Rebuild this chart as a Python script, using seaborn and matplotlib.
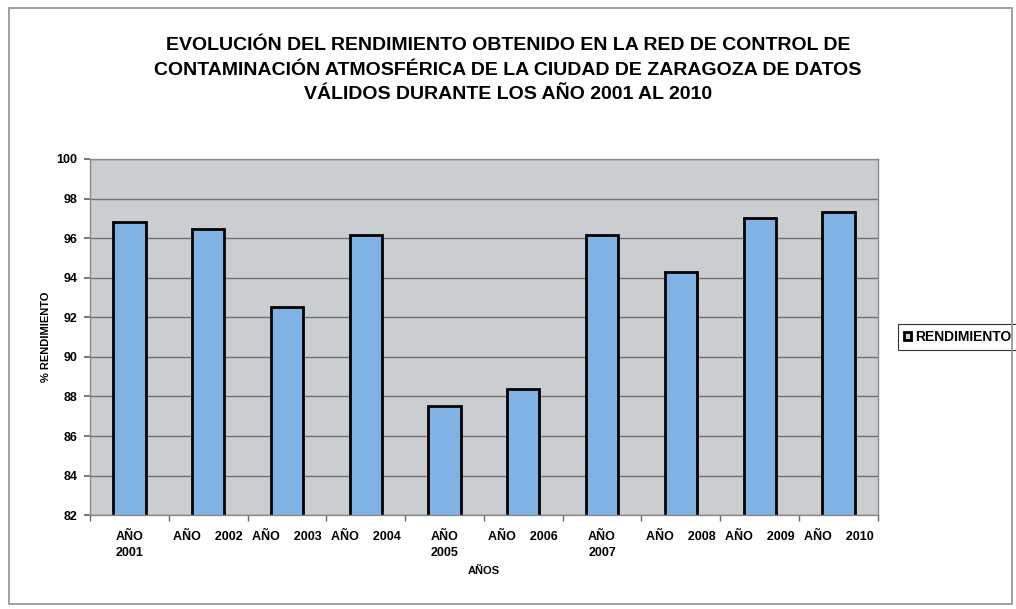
import matplotlib
matplotlib.use("Agg")
import matplotlib.pyplot as plt
import seaborn as sns
import pandas as pd
import numpy as np
from matplotlib.patches import Rectangle

years = ["2001", "2002", "2003", "2004", "2005", "2006", "2007", "2008", "2009", "2010"]
rendimiento = [96.8, 96.45, 92.5, 96.15, 87.5, 88.4, 96.15, 94.3, 97.0, 97.3]
tick_labels = ["AÑO\n2001", "AÑO    2002", "AÑO    2003", "AÑO    2004", "AÑO\n2005",
               "AÑO    2006", "AÑO\n2007", "AÑO    2008", "AÑO    2009", "AÑO    2010"]
title = ("EVOLUCIÓN DEL RENDIMIENTO OBTENIDO EN LA RED DE CONTROL DE\n"
         "CONTAMINACIÓN ATMOSFÉRICA DE LA CIUDAD DE ZARAGOZA DE DATOS\n"
         "VÁLIDOS DURANTE LOS AÑO 2001 AL 2010")

sns.set_theme(style="white")
plt.rcParams["font.family"] = ["Liberation Sans", "DejaVu Sans"]
plt.rcParams["text.color"] = "black"
plt.rcParams["axes.labelcolor"] = "black"
plt.rcParams["xtick.color"] = "black"
plt.rcParams["ytick.color"] = "black"

df = pd.DataFrame({"year": years, "RENDIMIENTO": rendimiento})

fig = plt.figure(figsize=(10.16, 6.09), dpi=100)
fig.patch.set_facecolor("white")
fig.add_artist(Rectangle((0.0089, 0.008), 0.987, 0.979, transform=fig.transFigure,
                         fill=False, edgecolor="#999999", linewidth=1.3))

ax = fig.add_axes([0.0886, 0.154, 0.7754, 0.585])
ax.set_facecolor("#cbced0")
bar_color = "#80b2e4"
sns.barplot(data=df, x="year", y="RENDIMIENTO", ax=ax, color=bar_color,
            edgecolor="black", linewidth=2.0, width=0.41, saturation=1)

ax.set_ylim(82, 100)
ax.set_yticks(range(82, 101, 2))
ax.set_xlim(-0.5, len(years) - 0.5)
ax.yaxis.grid(True, color="#707070", linewidth=1.0)
ax.set_axisbelow(True)
for s in ax.spines.values():
    s.set_color("#8a8a8a")
    s.set_linewidth(1.0)

ax.set_xticks(range(len(years)))
ax.set_xticks(np.arange(-0.5, len(years), 1.0), minor=True)
ax.set_xticklabels(tick_labels, fontsize=9, fontweight="bold", linespacing=1.45)
ax.tick_params(axis="x", which="major", length=0, pad=11, bottom=True)
ax.tick_params(axis="x", which="minor", length=4, color="#666666", direction="out", bottom=True)
ax.tick_params(axis="y", labelsize=9, length=4, color="#666666", left=True, pad=5)
for t in ax.get_yticklabels():
    t.set_fontweight("bold")
for t in ax.get_xticklabels():
    t.set_verticalalignment("top")

ax.set_xlabel("AÑOS", fontsize=8, fontweight="bold", labelpad=5)
ax.set_ylabel("% RENDIMIENTO", fontsize=8, fontweight="bold", labelpad=4)

fig.text(0.5, 0.885, title, ha="center", va="center", fontsize=14, fontweight="bold",
         linespacing=1.58)

handle = Rectangle((0, 0), 1, 1, facecolor="#c8d8e8", edgecolor="black", linewidth=2.0)
leg = ax.legend([handle], ["RENDIMIENTO"], loc="center left",
                bbox_to_anchor=(1.025, 0.5), frameon=True, fancybox=False,
                prop={"size": 10, "weight": "bold"}, handlelength=0.55,
                handleheight=0.55, handletextpad=0.25, borderpad=0.45,
                borderaxespad=0)
leg.get_frame().set_edgecolor("black")
leg.get_frame().set_linewidth(0.8)

fig.savefig("out.png", dpi=100)
